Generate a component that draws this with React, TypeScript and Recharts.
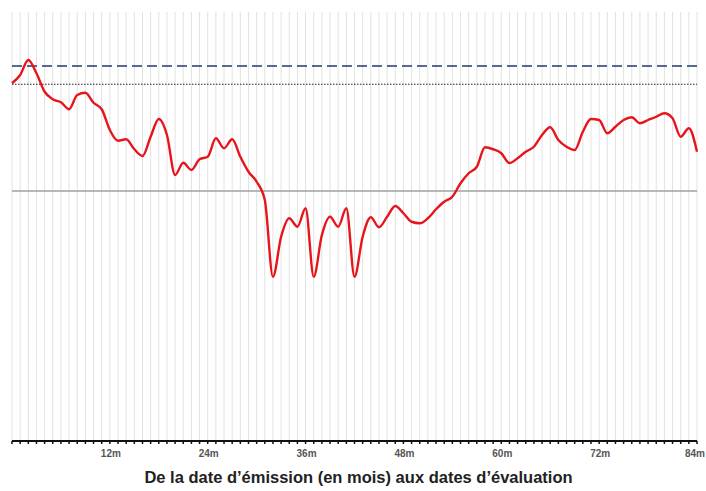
import React from "react";
import {
  LineChart,
  Line,
  XAxis,
  YAxis,
  CartesianGrid,
  ReferenceLine,
  Label,
} from "recharts";

const months: number[] = Array.from({ length: 85 }, (_, i) => i);

const values: number[] = [
  143.1, 146.4, 152.4, 147.1, 139.7, 136.7, 135.5, 132.7, 138.4, 139.3,
  135.3, 132.7, 124.4, 120.1, 120.7, 116.7, 114.0, 121.7, 128.8, 122.4,
  106.4, 111.3, 108.4, 112.7, 113.7, 121.1, 117.1, 120.7, 113.7, 107.7,
  103.7, 96.4, 65.7, 81.7, 89.1, 85.7, 93.1, 65.7, 82.4, 89.7,
  85.7, 93.1, 65.7, 81.7, 89.5, 85.5, 89.7, 94.0, 91.1, 87.7,
  87.1, 89.1, 92.7, 95.7, 97.7, 103.1, 107.1, 109.7, 117.5, 116.7,
  115.1, 111.2, 113.1, 115.7, 117.7, 122.4, 125.5, 120.4, 117.7, 116.4,
  123.7, 128.8, 128.4, 123.1, 125.7, 128.4, 129.5, 127.1, 128.4, 129.7,
  131.1, 129.1, 121.7, 125.1, 115.7,
];

const labelMonths: number[] = [12, 24, 36, 48, 60, 72, 84];
const upperBarrier = 150;
const couponBarrier = 142.7;
const initialLevel = 100;
const title = "De la date d\u2019émission (en mois) aux dates d\u2019évaluation";

const data = months.map((m, i) => ({ m, v: values[i] }));

const MonthTick = (props: any) => {
  const { x, y, payload } = props;
  const m = payload.value as number;
  if (!labelMonths.includes(m)) return null;
  return (
    <text
      x={m === 84 ? x - 2 : x + 1}
      y={y}
      dy="0.71em"
      textAnchor="middle"
      fontSize={10}
      fontWeight="bold"
      fill="#555"
    >
      {`${m}m`}
    </text>
  );
};

export default function App() {
  return (
    <div
      style={{
        fontFamily: "'Liberation Sans', Arial, sans-serif",
        width: 698,
        height: 483,
      }}
    >
      <style>
        {"body{margin:8px 0 0 8px;overflow:hidden}svg.recharts-surface{overflow:visible}.recharts-wrapper{overflow:visible}"}
      </style>
      <LineChart
        width={698}
        height={483}
        data={data}
        margin={{ top: 4, right: 9, bottom: 0, left: 4 }}
      >
        <CartesianGrid
          horizontal={false}
          vertical={true}
          stroke="#e2e2e2"
          strokeWidth={1}
        />
        <XAxis
          dataKey="m"
          type="number"
          domain={[0, 84]}
          ticks={months}
          interval={0}
          height={50}
          axisLine={{ stroke: "#111", strokeWidth: 2 }}
          tickLine={{ stroke: "#111", strokeWidth: 1.5 }}
          tickSize={3}
          tickMargin={6}
          tick={<MonthTick />}
        >
          <Label
            value={title}
            position="insideBottom"
            offset={8}
            dx={4}
            style={{ fontSize: 16.5, fontWeight: "bold", fill: "#222" }}
          />
        </XAxis>
        <YAxis
          type="number"
          domain={[0, 171.6]}
          allowDataOverflow
          width={0}
          tick={false}
          tickLine={false}
          axisLine={{ stroke: "#aaa", strokeWidth: 2 }}
        />
        <ReferenceLine
          y={initialLevel}
          stroke="#a0a0a0"
          strokeWidth={1.5}
        />
        <ReferenceLine
          y={upperBarrier}
          stroke="#1f3b6b"
          strokeWidth={1.5}
          strokeDasharray="10 5"
        />
        <ReferenceLine
          y={couponBarrier}
          stroke="#222"
          strokeWidth={1.2}
          strokeDasharray="1.5 1.5"
        />
        <Line
          type="monotone"
          dataKey="v"
          stroke="#e8141c"
          strokeWidth={2.4}
          dot={false}
          isAnimationActive={false}
        />
      </LineChart>
    </div>
  );
}
